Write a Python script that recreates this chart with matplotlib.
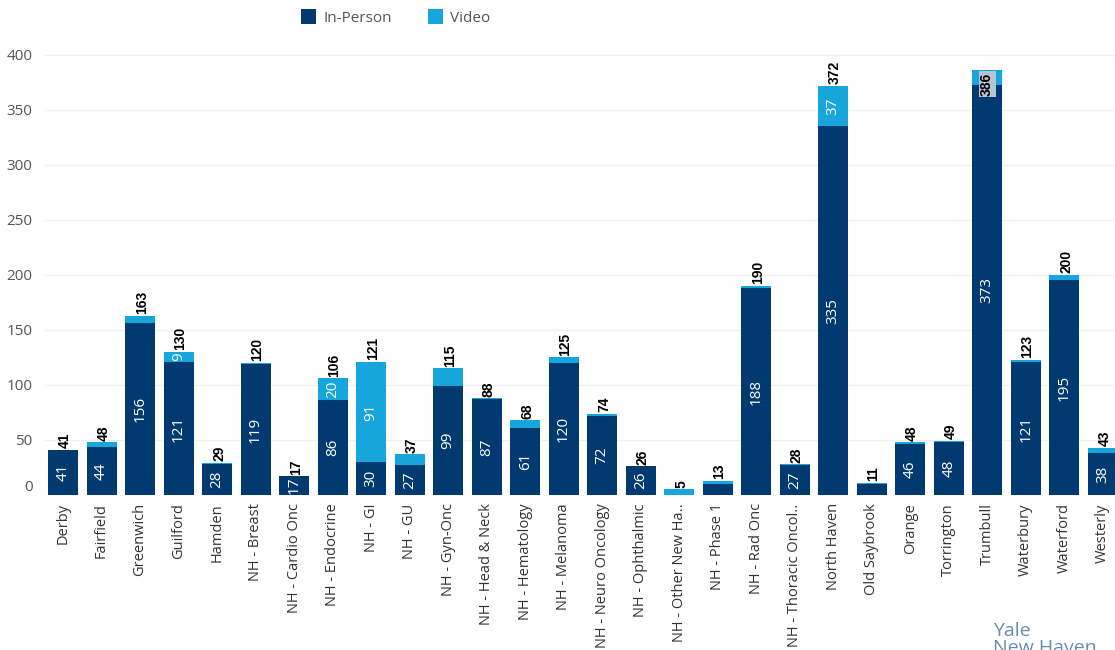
import matplotlib.pyplot as plt
import numpy as np

# data
sites = ['Derby', 'Fairfield', 'Greenwich', 'Guilford', 'Hamden', 'NH - Breast',
         'NH - Cardio Onc', 'NH - Endocrine', 'NH - GI', 'NH - GU', 'NH - Gyn-Onc',
         'NH - Head & Neck', 'NH - Hematology', 'NH - Melanoma', 'NH - Neuro Oncology',
         'NH - Ophthalmic', 'NH - Other New Ha..', 'NH - Phase 1', 'NH - Rad Onc',
         'NH - Thoracic Oncol..', 'North Haven', 'Old Saybrook', 'Orange', 'Torrington',
         'Trumbull', 'Waterbury', 'Waterford', 'Westerly']
in_person = [41, 44, 156, 121, 28, 119, 17, 86, 30, 27, 99, 87, 61, 120, 72, 26, 0,
             10, 188, 27, 335, 10, 46, 48, 373, 121, 195, 38]
video = [0, 4, 7, 9, 1, 1, 0, 20, 91, 10, 16, 1, 7, 5, 2, 0, 5, 3, 2, 1, 37, 1, 2, 1,
         13, 2, 5, 5]
show_video_label = ['Guilford', 'NH - Endocrine', 'NH - GI', 'North Haven']
yticks = [0, 50, 100, 150, 200, 250, 300, 350, 400]

navy = '#003a70'
light = '#16a6dc'

in_person = np.array(in_person)
video = np.array(video)
total = in_person + video
x = np.arange(len(sites))

fig = plt.figure(figsize=(11.15, 6.5), dpi=100)
ax = fig.add_axes([45 / 1115, 155 / 650, 1 - 45 / 1115, 450 / 650])

ax.bar(x, in_person, width=0.78, color=navy, label='In-Person', zorder=2)
ax.bar(x, video, width=0.78, bottom=in_person, color=light, label='Video', zorder=2)

for i in range(len(sites)):
    if in_person[i] >= 17:
        ax.text(x[i], in_person[i] / 2, str(in_person[i]), rotation=90, ha='center',
                va='center', color='white', fontsize=11, family='Open Sans', zorder=3)
    if sites[i] in show_video_label:
        ax.text(x[i], in_person[i] + video[i] / 2, str(video[i]), rotation=90,
                ha='center', va='center', color='white', fontsize=11,
                family='Open Sans', zorder=3)
    if sites[i] == 'Trumbull':
        ax.text(x[i], total[i] - 2, str(total[i]), rotation=90, ha='center', va='top',
                fontsize=10, fontweight='bold', family='Liberation Sans', zorder=4,
                bbox=dict(boxstyle='square,pad=0.1', fc='#b8c4cf', ec='none'))
    else:
        ax.text(x[i] + 0.05, total[i] + 1.5, str(total[i]), rotation=90, ha='center',
                va='bottom', fontsize=10, fontweight='bold', family='Liberation Sans',
                zorder=4)

ax.set_xlim(-0.47, 27.32)
ax.set_ylim(0, 409)
ax.set_xticks(x)
ax.set_xticklabels(sites, rotation=90, fontsize=10.5, family='Open Sans', color='#333333')
ax.set_yticks(yticks)
ax.set_yticklabels([str(v) for v in yticks], fontsize=11, family='Open Sans',
                   color='#555555')
ax.get_yticklabels()[0].set_va('bottom')
ax.tick_params(axis='both', length=0)
ax.tick_params(axis='x', pad=6)
ax.tick_params(axis='y', pad=9)
ax.grid(axis='y', color='#f0f0f0', linewidth=1, zorder=0)
for s in ax.spines.values():
    s.set_visible(False)

fig.legend(loc='center', bbox_to_anchor=(0.355, 0.973), ncol=2, frameon=False,
           prop={'family': 'Open Sans', 'size': 11}, handlelength=1.0,
           handleheight=1.1, columnspacing=2.3, handletextpad=0.5,
           labelcolor='#555555')

fig.text(993 / 1115, 1 - 622 / 650, 'Yale\nNew Haven', color='#6a8cb2', fontsize=14,
         family='Open Sans', va='top', ha='left', linespacing=0.95)

fig.savefig('out.png', dpi=100)
